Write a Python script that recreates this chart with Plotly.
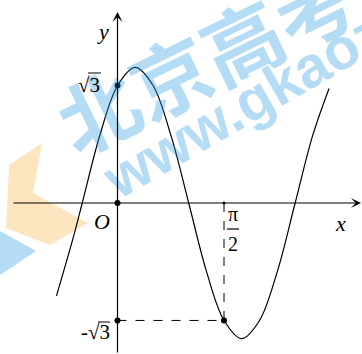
import plotly.graph_objects as go

W, H = 362, 354

# points along the curve y = 2 sin(2x + π/3)
curve_x = [-0.90, -0.65, -0.52, -0.26, 0.00, 0.26, 0.52, 0.79, 1.05,
           1.31, 1.57, 1.83, 2.09, 2.36, 2.62, 2.88, 3.12]
curve_y = [-1.37, -0.50, 0.00, 1.00, 1.73, 2.00, 1.74, 0.99, 0.00,
           -1.00, -1.73, -2.00, -1.74, -1.00, 0.00, 1.00, 1.69]

SQRT3 = 1.732
HALF_PI = 1.5708

# marked points: (0, √3), origin, (0, -√3), (π/2, -√3)
dot_x = [0.0, 0.0, 0.0, HALF_PI]
dot_y = [SQRT3, 0.0, -SQRT3, -SQRT3]

XR = [-1.733, 3.606]
YR = [-2.227, 2.994]


def px(u):
    return u / W


def py(v):
    return 1 - v / H


fig = go.Figure()

# curve
fig.add_trace(go.Scatter(x=curve_x, y=curve_y, mode="lines",
                         line=dict(color="black", width=1.2, shape="spline", smoothing=1.0),
                         hoverinfo="skip"))
# dots
fig.add_trace(go.Scatter(x=dot_x, y=dot_y, mode="markers",
                         marker=dict(color="black", size=6), hoverinfo="skip"))
fig.add_trace(go.Scatter(x=[HALF_PI], y=[0], mode="markers",
                         marker=dict(color="black", size=3), hoverinfo="skip"))

shapes = []
# logo pieces in the background
orange = [(42, 143), (33, 193), (88, 223), (50, 245), (6, 228), (9, 165)]
shapes.append(dict(type="path", xref="paper", yref="paper", layer="below",
                   path="M" + "L".join(f"{px(a):.4f},{py(b):.4f}" for a, b in orange) + "Z",
                   fillcolor="#fde6bf", line=dict(width=0)))
blue = [(0, 231), (36, 251), (0, 275)]
shapes.append(dict(type="path", xref="paper", yref="paper", layer="below",
                   path="M" + "L".join(f"{px(a):.4f},{py(b):.4f}" for a, b in blue) + "Z",
                   fillcolor="#b5dcf5", line=dict(width=0)))

# dashed guides
shapes.append(dict(type="line", x0=0, y0=-SQRT3, x1=HALF_PI, y1=-SQRT3,
                   line=dict(color="black", width=1, dash="dash")))
shapes.append(dict(type="line", x0=HALF_PI, y0=0, x1=HALF_PI, y1=-SQRT3,
                   line=dict(color="black", width=1, dash="dash")))
# overline of √3 and fraction bar of π/2
shapes.append(dict(type="line", xref="paper", yref="paper",
                   x0=px(88), x1=px(101), y0=py(73), y1=py(73),
                   line=dict(color="black", width=1)))
shapes.append(dict(type="line", xref="paper", yref="paper",
                   x0=px(98), x1=px(110), y0=py(322), y1=py(322),
                   line=dict(color="black", width=1)))
shapes.append(dict(type="line", xref="paper", yref="paper",
                   x0=px(227), x1=px(239), y0=py(229), y1=py(229),
                   line=dict(color="black", width=1.2)))

ann = []
wm = "rgba(44,155,226,0.35)"
ann.append(dict(xref="paper", yref="paper", x=px(205), y=py(56), text="<b>北京高考</b>",
                showarrow=False, textangle=-26, xanchor="center", yanchor="middle",
                font=dict(family="Noto Sans CJK SC", size=80, color=wm, weight=900)))
ann.append(dict(xref="paper", yref="paper", x=px(316), y=py(62), text="<b>www.gkaozx.com</b>",
                showarrow=False, textangle=-30, xanchor="center", yanchor="middle",
                font=dict(family="Liberation Sans", size=58, color=wm)))

# axes with arrowheads
ann.append(dict(x=XR[1] - 0.015, y=0, ax=-1.556, ay=0, axref="x", ayref="y",
                text="", showarrow=True, arrowhead=3, arrowsize=1.4, arrowwidth=1.2,
                arrowcolor="black"))
ann.append(dict(x=0, y=2.817, ax=0, ay=YR[0], axref="x", ayref="y",
                text="", showarrow=True, arrowhead=3, arrowsize=1.4, arrowwidth=1.2,
                arrowcolor="black"))

serif = "Liberation Serif"


def label(xp, yp, text, size=22):
    ann.append(dict(xref="paper", yref="paper", x=px(xp), y=py(yp), text=text,
                    showarrow=False, xanchor="center", yanchor="middle",
                    font=dict(family=serif, size=size, color="black")))


label(103, 31, "<i>y</i>")
label(340, 223, "<i>x</i>")
label(102, 221, "<i>O</i>")
label(89, 85, "√3", 21)
label(95, 332, "-√3", 21)
label(233, 214, "π", 20)
label(233, 244, "2", 20)

fig.update_layout(
    width=W, height=H, margin=dict(l=0, r=0, t=0, b=0),
    paper_bgcolor="white", plot_bgcolor="white", showlegend=False,
    xaxis=dict(range=XR, visible=False, fixedrange=True),
    yaxis=dict(range=YR, visible=False, fixedrange=True),
    shapes=shapes, annotations=ann,
)

fig.write_html("out.html", config={"displayModeBar": False})
